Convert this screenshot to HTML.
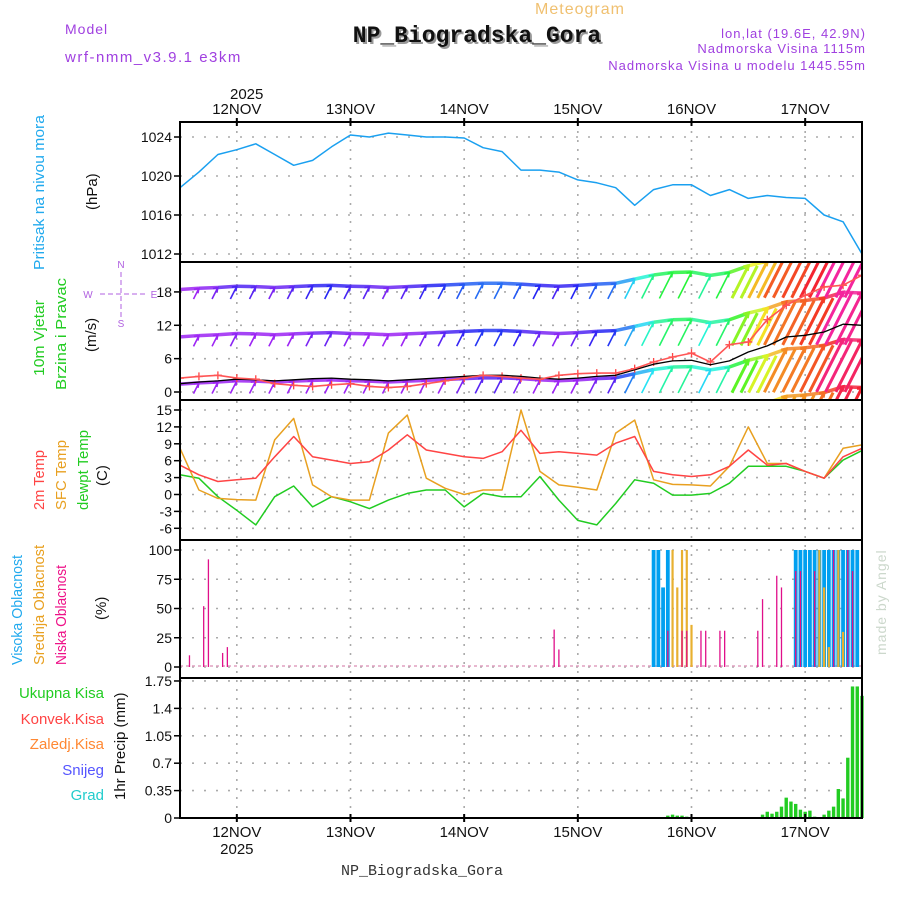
<!DOCTYPE html>
<html><head><meta charset="utf-8"><style>
html,body{margin:0;padding:0;background:#fff;}
svg{display:block;font-family:"Liberation Sans",sans-serif;}
</style></head><body>
<svg id="chart" width="900" height="900" viewBox="0 0 900 900">
<defs>
<clipPath id="cw"><rect x="180" y="262" width="682" height="138"/></clipPath>
<clipPath id="cp"><rect x="180" y="122" width="682" height="140"/></clipPath>
</defs>
<text x="65" y="34" font-size="14" fill="#a040e0" letter-spacing="1">Model</text>
<text x="65" y="62" font-size="15" fill="#a040e0" letter-spacing="1.5">wrf-nmm_v3.9.1 e3km</text>
<text x="580" y="14" font-size="16" fill="#f0c070" text-anchor="middle" letter-spacing="1">Meteogram</text>
<text x="479" y="44" font-size="23" font-weight="bold" fill="#999" text-anchor="middle" font-family="Liberation Mono, monospace">NP_Biogradska_Gora</text>
<text x="477" y="42" font-size="23" font-weight="bold" fill="#111" text-anchor="middle" font-family="Liberation Mono, monospace">NP_Biogradska_Gora</text>
<text x="866" y="38" font-size="13" fill="#a040e0" text-anchor="end" letter-spacing="1">lon,lat (19.6E, 42.9N)</text>
<text x="866" y="53" font-size="13" fill="#a040e0" text-anchor="end" letter-spacing="1">Nadmorska Visina 1115m</text>
<text x="866" y="70" font-size="13" fill="#a040e0" text-anchor="end" letter-spacing="1">Nadmorska Visina u modelu 1445.55m</text>
<text x="230" y="99" font-size="15" fill="#111">2025</text>
<text x="422" y="875" font-size="15" fill="#333" text-anchor="middle" font-family="Liberation Mono, monospace">NP_Biogradska_Gora</text>
<text x="0" y="0" font-size="14" fill="#ccd8cc" transform="translate(886,655) rotate(-90)" letter-spacing="1">made by Angel</text>
<!-- left labels -->
<text font-size="15" fill="#22aaee" transform="translate(44,270) rotate(-90)" textLength="155" lengthAdjust="spacingAndGlyphs">Pritisak na nivou mora</text>
<text font-size="15" fill="#111" transform="translate(97,210) rotate(-90)">(hPa)</text>
<text font-size="15" fill="#22cc22" transform="translate(44,376) rotate(-90)" textLength="76" lengthAdjust="spacingAndGlyphs">10m Vjetar</text>
<text font-size="15" fill="#22cc22" transform="translate(66,390) rotate(-90)" textLength="112" lengthAdjust="spacingAndGlyphs">Brzina i Pravac</text>
<text font-size="15" fill="#111" transform="translate(96,352) rotate(-90)">(m/s)</text>
<g fill="#b060e0" font-size="10" stroke="none">
<text x="121" y="268" text-anchor="middle">N</text><text x="121" y="327" text-anchor="middle">S</text>
<text x="88" y="298" text-anchor="middle">W</text><text x="154" y="298" text-anchor="middle">E</text>
<line x1="121" y1="272" x2="121" y2="318" stroke="#b060e0" stroke-dasharray="5,3"/>
<line x1="100" y1="294" x2="145" y2="294" stroke="#b060e0" stroke-dasharray="5,3"/>
</g>
<text font-size="15" fill="#ff4444" transform="translate(44,510) rotate(-90)" textLength="60" lengthAdjust="spacingAndGlyphs">2m Temp</text>
<text font-size="15" fill="#e8a020" transform="translate(66,510) rotate(-90)" textLength="70" lengthAdjust="spacingAndGlyphs">SFC Temp</text>
<text font-size="15" fill="#22cc22" transform="translate(88,510) rotate(-90)" textLength="80" lengthAdjust="spacingAndGlyphs">dewpt Temp</text>
<text font-size="15" fill="#111" transform="translate(107,486) rotate(-90)">(C)</text>
<text font-size="15" fill="#22aaee" transform="translate(22,665) rotate(-90)" textLength="110" lengthAdjust="spacingAndGlyphs">Visoka Oblacnost</text>
<text font-size="15" fill="#e8a020" transform="translate(44,665) rotate(-90)" textLength="120" lengthAdjust="spacingAndGlyphs">Srednja Oblacnost</text>
<text font-size="15" fill="#ee1188" transform="translate(66,665) rotate(-90)" textLength="100" lengthAdjust="spacingAndGlyphs">Niska Oblacnost</text>
<text font-size="15" fill="#111" transform="translate(106,620) rotate(-90)">(%)</text>
<g font-size="15" text-anchor="end">
<text x="104" y="698" fill="#22cc22">Ukupna Kisa</text>
<text x="104" y="724" fill="#ff4444">Konvek.Kisa</text>
<text x="104" y="749" fill="#ff8833">Zaledj.Kisa</text>
<text x="104" y="775" fill="#5555ff">Snijeg</text>
<text x="104" y="800" fill="#22cccc">Grad</text>
</g>
<text font-size="15" fill="#111" transform="translate(125,800) rotate(-90)">1hr Precip (mm)</text>
<g id="grid"></g>
<g id="marks"></g>
<g id="frames"></g>
</svg>
<script>
// ---- data (hours from 11 Nov 12:00, 4-hourly samples) ----
const sampleStep = 4;
const dayLabels = ["12NOV","13NOV","14NOV","15NOV","16NOV","17NOV"];
const dayHours = [12,36,60,84,108,132];
const pressure = [1018.8,1020.4,1022.2,1022.7,1023.3,1022.2,1021.1,1021.6,1023.0,1024.2,1024.0,1024.4,1024.2,1024.0,1024.0,1023.9,1022.9,1022.5,1020.6,1020.6,1020.4,1019.6,1019.3,1018.8,1017.0,1018.6,1019.1,1019.1,1018.0,1018.6,1017.7,1018.0,1017.8,1017.7,1016.0,1015.3,1012.0];
const pressureTicks = [1012,1016,1020,1024];
const windSpeed = [1.5,1.8,2.0,2.3,2.2,2.0,2.2,2.4,2.5,2.3,2.2,2.0,2.2,2.4,2.6,2.8,3.0,3.0,2.8,2.5,2.3,2.5,2.8,3.0,4.0,5.0,5.6,5.7,4.9,5.6,7.2,8.3,9.9,10.2,10.8,12.2,12.0];
const windGust = [2.5,2.8,3.0,2.5,2.3,1.5,1.2,1.0,1.3,1.5,1.0,0.8,1.0,1.5,2.0,2.5,3.0,2.8,2.5,2.3,3.0,3.3,3.4,3.4,4.2,5.4,6.3,7.0,5.4,8.5,9.0,13.0,15.6,17.4,18.9,19.2,21.0];
const windTicks = [0,6,12,18];
const temp2m = [5.2,3.5,2.3,2.6,2.9,6.7,10.3,6.7,6.1,5.5,5.8,7.9,10.6,7.9,7.3,6.7,6.4,7.6,11.4,7.3,7.6,7.3,7.0,9.1,10.3,4.1,3.5,3.2,3.5,5.0,7.9,5.2,5.5,4.1,2.9,6.7,8.2];
const tempSfc = [8.2,0.8,-0.7,-0.9,-1.0,9.7,13.5,1.7,-0.4,-1.0,-1.0,10.9,14.1,2.9,1.1,0.0,0.8,0.8,15.0,4.1,1.7,1.3,0.8,10.9,13.2,2.6,1.8,1.7,1.5,5.0,12.0,5.5,5.5,4.1,2.9,8.2,8.8];
const tempDew = [3.5,2.9,-0.4,-2.8,-5.4,-0.4,1.5,-2.2,-0.4,-1.3,-2.5,-1.0,0.2,0.8,0.8,-2.2,0.2,-0.4,-0.4,3.2,-1.0,-4.6,-5.4,-1.6,2.6,2.0,-0.1,-0.1,0.2,2.0,5.0,5.0,5.0,4.1,2.9,6.1,7.8];
const tempTicks = [-6,-3,0,3,6,9,12,15];
const cloudHighHours = [100,101,102,103,130,131,132,133,134,135,136,137,138,139,140,141,142,143];
const cloudHighVals = [100,100,68,100,100,100,100,100,100,100,100,100,100,100,100,100,100,100];
const cloudMidHours = [104,105,106,107,108,135,136,137,139,140];
const cloudMidVals = [100,68,100,100,36,100,68,17,100,30];
const cloudLowHours = [2,5,6,9,10,79,80,103,106,107,110,111,114,115,122,123,126,127,130,131,134,138,141,142];
const cloudLowVals = [10,52,92,12,17,32,15,31,31,31,31,31,31,31,31,58,78,68,82,82,82,100,100,82];
const cloudTicks = [0,25,50,75,100];
const precipHours = [103,104,105,106,107,123,124,125,126,127,128,129,130,131,132,133,134,136,137,138,139,140,141,142,143,144];
const precipVals = [0.03,0.043,0.03,0.03,0.017,0.043,0.08,0.055,0.08,0.145,0.26,0.21,0.18,0.106,0.08,0.094,0.017,0.043,0.094,0.145,0.37,0.25,0.77,1.68,1.68,1.56];
const precipTicks = ["0","0.35","0.7","1.05","1.4","1.75"];

// ---- axes ----
const X0=180, X1=862, H=144;
const xs = h => X0 + h*(X1-X0)/H;
const yP = p => 137 + (1024-p)*9.75;
const yW = v => 392 - v*5.56;
const yT = t => 410 + (15-t)*5.633;
const yC = c => 667 - c*1.17;
const yR = r => 818 - r*78.3;
const NS="http://www.w3.org/2000/svg";
const grid=document.getElementById('grid'), marks=document.getElementById('marks'), frames=document.getElementById('frames');
function mk(tag, attrs, parent){const e=document.createElementNS(NS,tag);for(const k in attrs)e.setAttribute(k,attrs[k]);parent.appendChild(e);return e;}

const panels=[[122,262],[262,400],[400,540],[540,678],[678,818]];
dayHours.forEach((h,i)=>{
  const l=mk('line',{x1:xs(h),x2:xs(h),y1:122,y2:818,stroke:'#aaa','stroke-width':1.6,'stroke-dasharray':'2,7'},grid);
  
  
  const t=mk('text',{x:xs(h),y:114,'font-size':15,'text-anchor':'middle',fill:'#111'},grid);t.textContent=dayLabels[i];
  
  
  const b=mk('text',{x:xs(h),y:837,'font-size':15,'text-anchor':'middle',fill:'#111'},grid);b.textContent=dayLabels[i];
  
  
  mk('line',{x1:xs(h),x2:xs(h),y1:118,y2:126,stroke:'#000','stroke-width':2},frames);
  mk('line',{x1:xs(h),x2:xs(h),y1:814,y2:822,stroke:'#000','stroke-width':2},frames);
});
const yb=mk('text',{x:xs(12),y:854,'font-size':15,'text-anchor':'middle',fill:'#111'},grid);yb.textContent='2025';



function ticks(vals, yf, name){
  vals.forEach(v=>{
    const y=yf(parseFloat(v));
    mk('line',{x1:X0,x2:X1,y1:y,y2:y,stroke:'#aaa','stroke-width':1.6,'stroke-dasharray':'2,10'},grid);
    mk('line',{x1:X0-6,x2:X0,y1:y,y2:y,stroke:'#000','stroke-width':1.5},frames);
    const t=mk('text',{x:X0-8,y:y+5,'font-size':14,'text-anchor':'end',fill:'#111'},frames);t.textContent=v;
    
    
  });
}
ticks(pressureTicks,yP,'pressure-tick');
ticks(windTicks,yW,'wind-tick');
ticks(tempTicks,yT,'temp-tick');
ticks(cloudTicks,yC,'cloud-tick');
ticks(precipTicks,yR,'precip-tick');

function line(arr,yf,color,name,w,clip){
  const pts=arr.map((v,i)=>xs(i*sampleStep).toFixed(1)+','+yf(v).toFixed(1)).join(' ');
  const p=mk('polyline',{points:pts,fill:'none',stroke:color,'stroke-width':w||1.5,'stroke-linejoin':'round'},marks);
  if(clip)p.setAttribute('clip-path',clip);
  
  
}
line(pressure,yP,'#1aa0f0','pressure-line',1.5,'url(#cp)');

function windColor(s){
  const stops=[[2.6,275],[3.6,225],[5,185],[6,140],[7.5,95],[9,45],[10.5,20],[11.5,0],[12.5,-35]];
  let h=stops[0][1];
  if(s>=stops[stops.length-1][0]) h=stops[stops.length-1][1];
  else for(let i=0;i<stops.length-1;i++){if(s>=stops[i][0]&&s<stops[i+1][0]){const f=(s-stops[i][0])/(stops[i+1][0]-stops[i][0]);h=stops[i][1]+f*(stops[i+1][1]-stops[i][1]);}}
  return 'hsl('+((h+360)%360)+',90%,55%)';
}
const wg=mk('g',{'clip-path':'url(#cw)'},marks);


const headY=(s,k)=>yW(k*8.5+0.3+0.75*s);
// dense band along arrow heads
for(let k=-1;k<=3;k++){
  for(let i=0;i<windSpeed.length-1;i++){
    const s=(windSpeed[i]+windSpeed[i+1])/2;
    const b=mk('line',{x1:xs(i*sampleStep),y1:headY(windSpeed[i],k),x2:xs((i+1)*sampleStep),y2:headY(windSpeed[i+1],k),stroke:windColor(s+k*0.4),'stroke-width':3.5,opacity:0.85},wg);
    
    
  }
}
windSpeed.forEach((s,i)=>{
  for(let k=-1;k<=3;k++){
    const hx=xs(i*sampleStep), hy=headY(s,k);
    const L=4.5*s+4, tx=hx-L*0.45, ty=hy+L*0.89;
    const c=windColor(s+k*0.4);
    const sw=s>6?3:1.6;
    const a=mk('path',{d:`M${tx},${ty}L${hx},${hy}M${hx-5},${hy+1}L${hx},${hy}L${hx-1},${hy+5}`,stroke:c,'stroke-width':sw,fill:'none'},wg);
    
    
    if(s>6){
      const a2=mk('path',{d:`M${tx+9},${ty}L${hx+9},${hy}`,stroke:c,'stroke-width':sw,fill:'none'},wg);
      
      
    }
  }
});
line(windSpeed,yW,'#000','wind-speed-line',1.3,'url(#cw)');
windGust.forEach((g,i)=>{
  const x=xs(i*sampleStep), y=yW(g);
  const p=mk('path',{d:`M${x-4},${y}H${x+4}M${x},${y-4}V${y+4}`,stroke:'#ff4444','stroke-width':1.3},wg);
  
  
});
line(windGust,yW,'#ff5555','wind-gust-line',1.6,'url(#cw)');

line(tempDew,yT,'#22cc22','dewpoint-line',1.5);
line(tempSfc,yT,'#e8a020','sfc-temp-line',1.5);
line(temp2m,yT,'#ff4444','temp-2m-line',1.5);

const cb=mk('line',{x1:X0,x2:X1,y1:666,y2:666,stroke:'#e0a0c0','stroke-width':1.5,'stroke-dasharray':'3,3'},marks);


function bars(hours,vals,yf,y0,color,w,name){
  hours.forEach((h,i)=>{
    const y=yf(vals[i]);
    const r=mk('rect',{x:xs(h)-w/2,y:y,width:w,height:y0-y,fill:color},marks);
    
    
  });
}
bars(cloudHighHours,cloudHighVals,yC,667,'#00a0f0',3.8,'cloud-high-bar');
bars(cloudMidHours,cloudMidVals,yC,667,'#e8b030',2.2,'cloud-mid-bar');
bars(cloudLowHours,cloudLowVals,yC,667,'#e0108a',1.3,'cloud-low-bar');
bars(precipHours,precipVals,yR,818,'#22cc22',3.4,'precip-bar');

panels.forEach((p,i)=>{
  const r=mk('rect',{x:X0,y:p[0],width:X1-X0,height:p[1]-p[0],fill:'none',stroke:'#000','stroke-width':2},frames);
  
  
});
</script>
</body></html>
